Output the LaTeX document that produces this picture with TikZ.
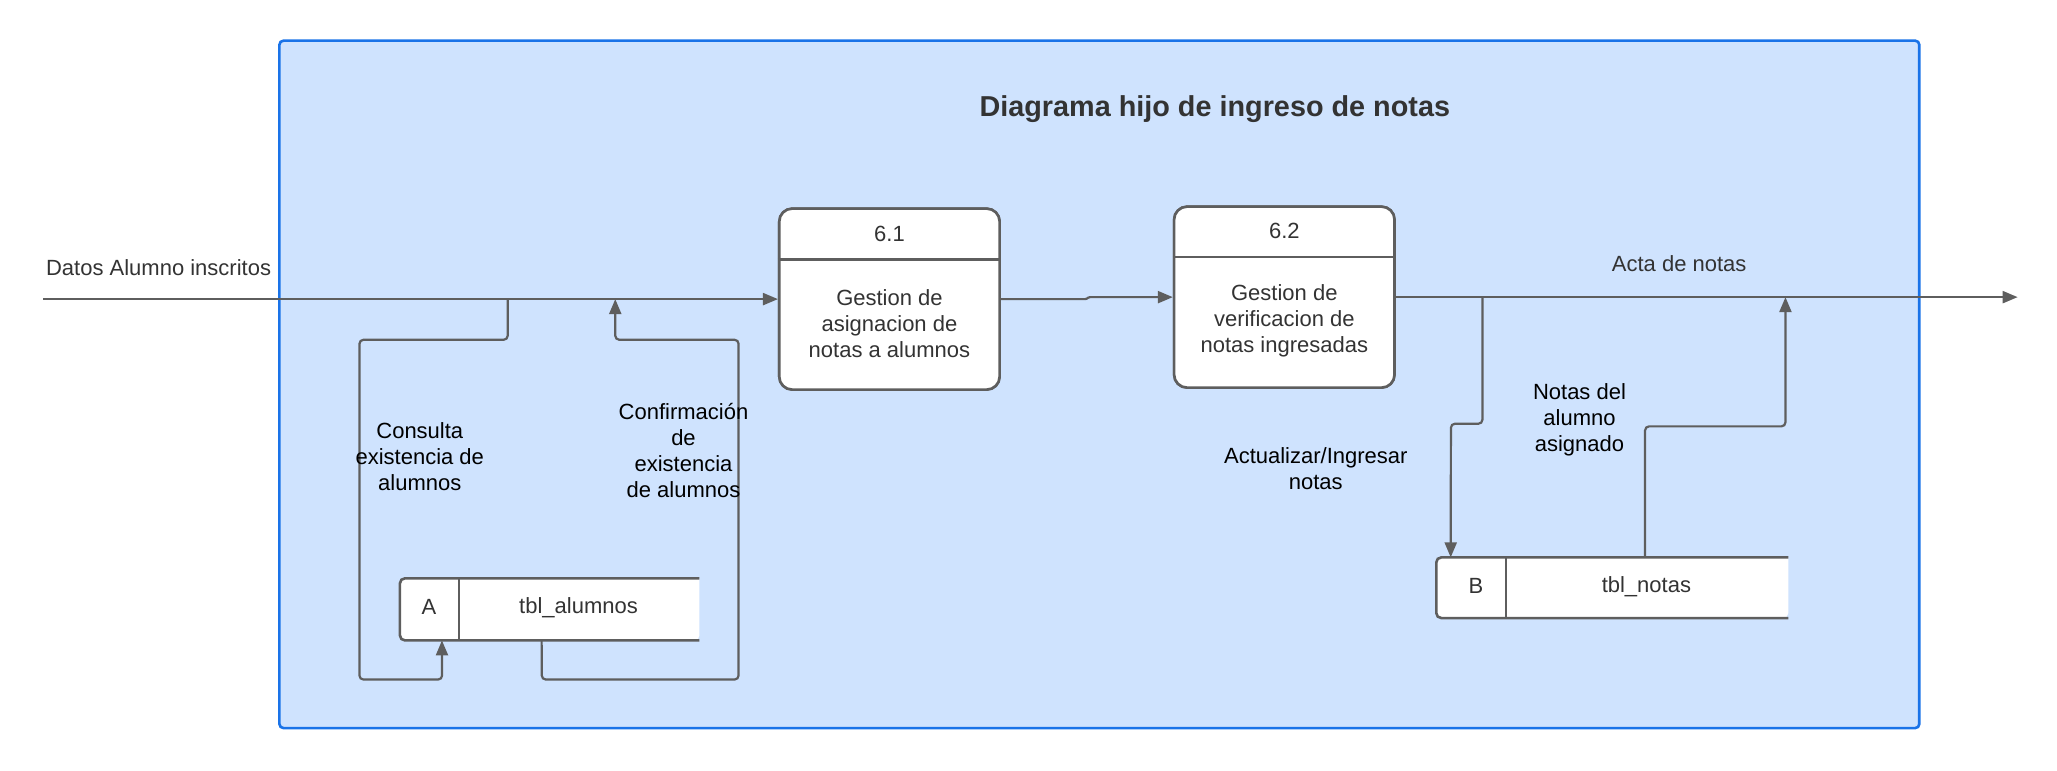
\documentclass[tikz,border=0pt]{standalone}
\usepackage{fontspec}
\setmainfont{Liberation Sans}
\usetikzlibrary{arrows.meta}
\definecolor{lineg}{HTML}{5E5E5E}
\definecolor{frameblue}{HTML}{1A73E8}
\definecolor{framefill}{HTML}{CFE3FE}
\definecolor{txt}{HTML}{333333}
\begin{document}
\begin{tikzpicture}[x=1.3119pt,y=-1.3119pt,
  line/.style={draw=lineg, line width=2.2pt},
  flow/.style={line, rounded corners=4pt, -{Triangle[length=15pt,width=12pt]}},
  lbl/.style={font=\fontsize{22}{26.2}\selectfont, text=txt, align=center, inner sep=0pt},
  blk/.style={lbl, text=black},
  ttl/.style={font=\fontsize{28.8}{34}\selectfont\bfseries, text=txt, inner sep=0pt},
  frame/.style={draw=frameblue, fill=framefill, line width=2.6pt, rounded corners=4pt,
    minimum width=1639.9pt, minimum height=687.4pt, inner sep=0pt},
  proc/.style={draw=lineg, fill=white, line width=2.6pt, rounded corners=13pt,
    minimum width=220.4pt, minimum height=181pt, inner sep=0pt},
  storebox/.style={draw=none, inner sep=0pt}
]
\useasboundingbox (0,0) rectangle (1568,587);
% frame
\node[frame] (frame) at (838,293) {};
\node[ttl] (title) at (926,83) {Diagrama hijo de ingreso de notas};

% named coordinates
\coordinate (inL) at (33,228);
\coordinate (q1) at (387,228);
\coordinate (q2) at (469,228);
\coordinate (q3) at (1130,226.5);
\coordinate (q4) at (1361,226.5);
\coordinate (outR) at (1538,226.5);

% process nodes
\node[proc] (p1) at (678,228) {};
\node[proc] (p2) at (979,226.5) {};

% stores
\node[storebox, minimum width=299.1pt, minimum height=61.7pt] (sA) at (419,464.5) {};
\node[storebox, minimum width=351.6pt, minimum height=60.3pt] (sB) at (1229,448) {};

% flows
\draw[flow] (inL) -- (p1.west);
\draw[flow] (q1) -- (387,259) -- (274,259) -- (274,518) -- (337,518) -- ([xshift=42pt]sA.south west);
\draw[flow] ([xshift=141.7pt]sA.south west) -- (413,518) -- (563,518) -- (563,259) -- (469,259) -- (q2);
\draw[flow, rounded corners=1pt] (p1.east) -- (828,228) -- (830,226.5) -- (p2.west);
\draw[flow] (p2.east) -- (outR);
\draw[flow] (q3) -- (1130,323) -- (1106,323) -- ([xshift=14.4pt]sB.north west);
\draw[flow] ([xshift=208.6pt]sB.north west) -- (1254,325) -- (1361,325) -- (q4);

% redraw process boxes on top
\node[proc] at (p1) {};
\node[proc] at (p2) {};
\draw[line, line width=2.6pt] (p1.west |- 0,198) -- (p1.east |- 0,198);
\draw[line, line width=2.6pt] (p2.west |- 0,196) -- (p2.east |- 0,196);
\node[lbl] (p1h) at (678,178) {6.1};
\node[lbl] (p1t) at (678,246.5) {Gestion de\\asignacion de\\notas a alumnos};
\node[lbl] (p2h) at (979,176) {6.2};
\node[lbl] (p2t) at (979,244.5) {Gestion de\\verificacion de\\notas ingresadas};

% store A
\fill[white, rounded corners=5pt] (sA.north east) -- (sA.north west) -- (sA.south west) -- (sA.south east) [sharp corners] -- cycle;
\draw[line, line width=2.6pt, rounded corners=5pt] (sA.north east) -- (sA.north west) -- (sA.south west) -- (sA.south east);
\draw[line, line width=2.6pt] (350,441) -- (350,488);
\node[lbl] (sAk) at (327,463) {A};
\node[lbl] (sAn) at (441,463) {tbl\_alumnos};

% store B
\fill[white, rounded corners=5pt] (sB.north east) -- (sB.north west) -- (sB.south west) -- (sB.south east) [sharp corners] -- cycle;
\draw[line, line width=2.6pt, rounded corners=5pt] (sB.north east) -- (sB.north west) -- (sB.south west) -- (sB.south east);
\draw[line, line width=2.6pt] (1148,425) -- (1148,471);
\node[lbl] (sBk) at (1125,447) {B};
\node[lbl] (sBn) at (1255,447) {tbl\_notas};

% labels
\node[lbl, anchor=west] (l1) at (35,204) {Datos Alumno inscritos};
\node[lbl] (l2) at (1280,201) {Acta de notas};
\node[blk] (l3) at (320,348) {Consulta\\existencia de\\alumnos};
\node[blk] (l4) at (521,343.5) {Confirmación\\de\\existencia\\de alumnos};
\node[blk] (l5) at (1204,320) {Notas del\\alumno\\asignado};
\node[blk] (l6) at (1003,357) {Actualizar/Ingresar\\notas};
\end{tikzpicture}
\end{document}
